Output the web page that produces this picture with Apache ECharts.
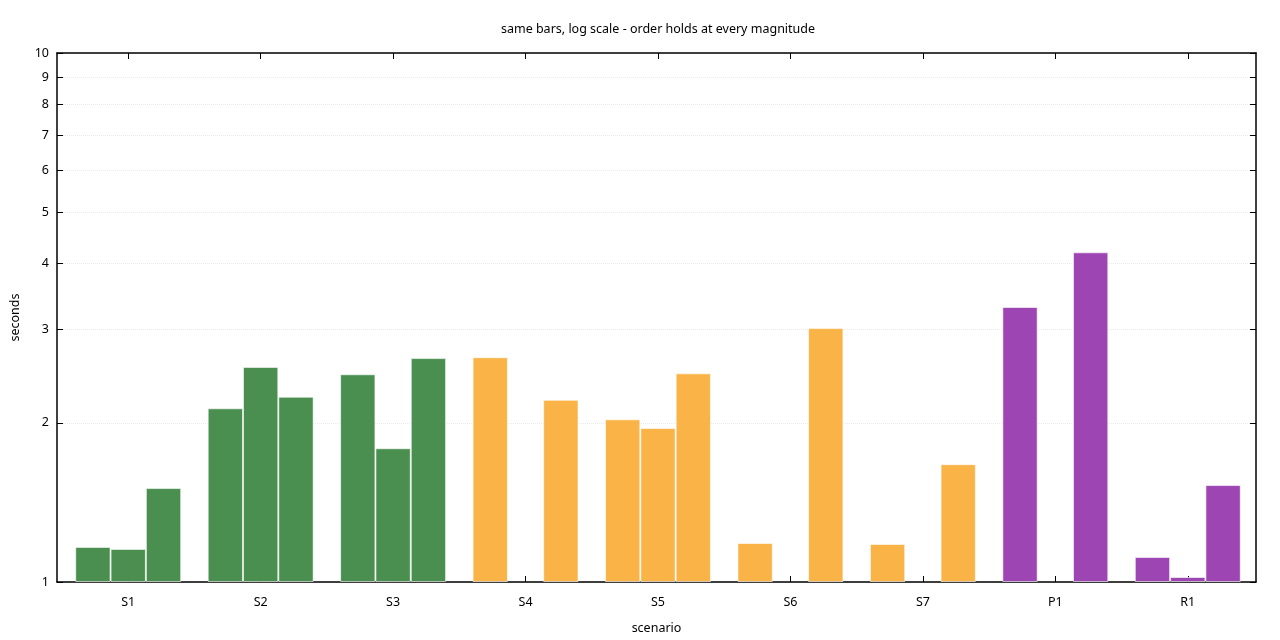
<!DOCTYPE html>
<html><head><meta charset="utf-8">
<script src="https://cdn.jsdelivr.net/npm/echarts@6/dist/echarts.min.js"></script>
<style>html,body{margin:0;padding:0;background:#fff}#c{width:1280px;height:640px}</style>
</head><body><div id="c"></div>
<script>
const categories = ['S1','S2','S3','S4','S5','S6','S7','P1','R1'];
const bar1 = [1.165, 2.13, 2.47, 2.66, 2.03, 1.185, 1.18, 3.31, 1.115];
const bar2 = [1.155, 2.55, 1.79, null, 1.955, null, null, null, 1.022];
const bar3 = [1.505, 2.24, 2.65, 2.21, 2.48, 3.02, 1.67, 4.2, 1.525];
const groupColors = ['#4a8f4f','#4a8f4f','#4a8f4f','#f9b347','#f9b347','#f9b347','#f9b347','#9d45b3','#9d45b3'];
const yTicks = [1,2,3,4,5,6,7,8,9,10];

const font = 'Noto Sans';
function barSeries(data, name){
  return {
    name: name, type: 'bar', data: data,
    barGap: '0%', barCategoryGap: '20%',
    itemStyle: { color: p => groupColors[p.dataIndex], borderColor: 'rgba(255,255,255,0.6)', borderWidth: 1 },
    xAxisIndex: 2, yAxisIndex: 2
  };
}
const frameLine = { show: true, lineStyle: { color: '#000', width: 1.5 } };
const hiddenLine = { show: true, lineStyle: { color: 'rgba(0,0,0,0)', width: 1 } };
const xTick = { show: true, inside: true, alignWithLabel: true, interval: 0, length: 6, lineStyle: { color: '#000', width: 1 } };
const chart = echarts.init(document.getElementById('c'));
chart.setOption({
  animation: false,
  textStyle: { fontFamily: font },
  title: { text: 'same bars, log scale - order holds at every magnitude', left: 653, top: 18, textAlign: 'center',
    textStyle: { fontSize: 12.5, fontWeight: 'normal', color: '#000', fontFamily: font } },
  grid: [
    { left: 57, right: 24, top: 53, bottom: 58 },
    { left: 62, right: 26, top: 53, bottom: 58 }
  ],
  xAxis: [
    { gridIndex: 0, type: 'category', data: categories, position: 'bottom',
      name: 'scenario', nameLocation: 'middle', nameGap: 40, nameTextStyle: { fontSize: 12.5, color: '#000' },
      axisLine: frameLine, axisTick: { show: false }, axisLabel: { show: false } },
    { gridIndex: 0, type: 'category', data: categories, position: 'top',
      axisLine: frameLine, axisTick: { show: false }, axisLabel: { show: false } },
    { gridIndex: 1, type: 'category', data: categories, position: 'bottom',
      axisLine: hiddenLine, axisTick: xTick,
      axisLabel: { show: true, color: '#000', fontSize: 12.5, margin: 14, interval: 0 } },
    { gridIndex: 1, type: 'category', data: categories, position: 'top',
      axisLine: hiddenLine, axisTick: xTick, axisLabel: { show: false } }
  ],
  yAxis: [
    { gridIndex: 0, type: 'log', logBase: 10, min: 1, max: 10, position: 'left',
      name: 'seconds', nameLocation: 'middle', nameGap: 35, nameTextStyle: { fontSize: 12.5, color: '#000' },
      axisLine: frameLine,
      axisTick: { show: true, inside: true, length: 6, customValues: yTicks, lineStyle: { color: '#000' } },
      axisLabel: { color: '#000', fontSize: 12.5, margin: 8, customValues: yTicks },
      splitLine: { show: true, lineStyle: { color: '#ebebeb', type: 'dotted' } } },
    { gridIndex: 0, type: 'log', logBase: 10, min: 1, max: 10, position: 'right',
      axisLine: frameLine,
      axisTick: { show: true, inside: true, length: 6, customValues: yTicks, lineStyle: { color: '#000' } },
      axisLabel: { show: false },
      splitLine: { show: false } },
    { gridIndex: 1, type: 'log', logBase: 10, min: 1, max: 10,
      axisLine: { show: false }, axisTick: { show: false }, axisLabel: { show: false }, splitLine: { show: false } }
  ],
  series: [ barSeries(bar1,'a'), barSeries(bar2,'b'), barSeries(bar3,'c') ]
});
</script></body></html>
